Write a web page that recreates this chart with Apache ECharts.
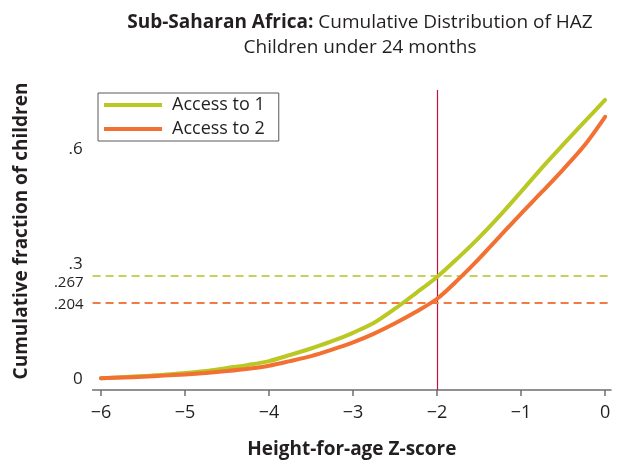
<!DOCTYPE html>
<html>
<head>
<meta charset="utf-8">
<script src="https://cdn.jsdelivr.net/npm/echarts@6/dist/echarts.min.js"></script>
<style>
html,body{margin:0;padding:0;background:#fff;}
#chart{width:619px;height:464px;}
</style>
</head>
<body>
<div id="chart"></div>
<script>
// ---- data ----
const zScores = [-6, -5.75, -5.5, -5.25, -5, -4.75, -4.5, -4.25, -4, -3.75, -3.5, -3.25, -3, -2.75, -2.5, -2.25, -2, -1.75, -1.5, -1.25, -1, -0.75, -0.5, -0.25, 0];
const access1 = [0.002, 0.005, 0.008, 0.011, 0.016, 0.021, 0.029, 0.037, 0.047, 0.063, 0.080, 0.099, 0.121, 0.147, 0.184, 0.225, 0.267, 0.317, 0.370, 0.428, 0.490, 0.553, 0.613, 0.672, 0.730];
const access2 = [0.002, 0.004, 0.006, 0.009, 0.012, 0.016, 0.021, 0.027, 0.035, 0.047, 0.060, 0.077, 0.096, 0.119, 0.146, 0.176, 0.210, 0.260, 0.315, 0.374, 0.433, 0.490, 0.548, 0.610, 0.686];
const seriesNames = ['Access to 1', 'Access to 2'];
const xTicks = [-6, -5, -4, -3, -2, -1, 0];
const yTicks = [0, 0.3, 0.6];
const cutoffZ = -2;
const refLevels = [0.267, 0.204];

const FONT = '"Open Sans", "Noto Sans", sans-serif';
const TXT = '#231f20';
const GREEN = '#b9c823';
const ORANGE = '#f27032';

const pairs = (ys) => zScores.map((z, i) => [z, ys[i]]);
const fmtDec = (v) => v === 0 ? '0' : String(v).replace(/^0/, '');

const chart = echarts.init(document.getElementById('chart'), null, {renderer: 'canvas'});
chart.setOption({
  animation: false,
  backgroundColor: '#fff',
  title: [
    {
      text: '{b|Sub-Saharan Africa:} {r|Cumulative Distribution of HAZ}',
      left: 355, top: 8, textAlign: 'center',
      textStyle: {
        rich: {
          b: {fontFamily: FONT, fontSize: 19, fontWeight: 'bold', color: TXT},
          r: {fontFamily: FONT, fontSize: 19, fontWeight: 'normal', color: TXT}
        }
      }
    },
    {
      text: 'Children under 24 months',
      left: 355, top: 33, textAlign: 'center',
      textStyle: {fontFamily: FONT, fontSize: 19, fontWeight: 'normal', color: TXT}
    }
  ],
  legend: {
    orient: 'vertical',
    left: 98, top: 93,
    data: seriesNames,
    icon: 'rect',
    itemWidth: 58, itemHeight: 4,
    itemGap: 4,
    padding: [2, 14, 2, 6],
    borderColor: '#58595b', borderWidth: 1, borderRadius: 0,
    textStyle: {fontFamily: FONT, fontSize: 18, color: TXT, lineHeight: 20, padding: [0, 0, 0, 5]}
  },
  grid: {left: 92.6, right: 8, top: 90, bottom: 72, containLabel: false},
  xAxis: {
    type: 'value',
    min: -6.1, max: 0.07,
    name: 'Height-for-age Z-score',
    nameLocation: 'middle',
    nameGap: 50,
    nameTextStyle: {fontFamily: FONT, fontSize: 19, fontWeight: 'bold', color: TXT},
    axisLine: {show: true, onZero: false, lineStyle: {color: '#6d6e71', width: 1.5}},
    axisTick: {show: true, length: 6, lineStyle: {color: '#6d6e71', width: 1.5}, customValues: xTicks},
    axisLabel: {
      customValues: xTicks,
      margin: 14,
      fontFamily: FONT, fontSize: 18, color: TXT,
      formatter: (v) => v < 0 ? '\u2212' + Math.abs(v) : String(v)
    },
    splitLine: {show: false}
  },
  yAxis: {
    type: 'value',
    min: -0.0286, max: 0.756,
    axisLine: {show: false},
    axisTick: {show: false},
    splitLine: {show: false},
    axisLabel: {
      customValues: yTicks,
      margin: 10,
      fontFamily: FONT, fontSize: 17, color: TXT,
      formatter: fmtDec
    }
  },
  graphic: [
    {
      type: 'text',
      x: 22, y: 231,
      rotation: Math.PI / 2,
      style: {
        text: 'Cumulative fraction of children',
        fontFamily: FONT, fontSize: 19, fontWeight: 'bold', fill: TXT,
        align: 'center', verticalAlign: 'middle'
      }
    }
  ],
  series: [
    {
      name: 'cutoff',
      type: 'line',
      data: [],
      z: 1,
      markLine: {
        silent: true, symbol: 'none', z: 1,
        lineStyle: {color: '#c0123c', type: 'solid', width: 1.2},
        label: {show: false},
        data: [{xAxis: cutoffZ}]
      }
    },
    {
      name: seriesNames[0],
      type: 'line',
      data: pairs(access1),
      smooth: 0.3,
      showSymbol: false,
      z: 3,
      color: GREEN,
      lineStyle: {color: GREEN, width: 4, cap: 'round'},
      markLine: {
        silent: true, symbol: 'none', z: 2,
        lineStyle: {color: '#c5d15a', type: [8, 5], width: 2},
        label: {show: true, position: 'start', distance: 9, offset: [0, 7], formatter: fmtDec(refLevels[0]), fontFamily: FONT, fontSize: 15, color: TXT},
        data: [{yAxis: refLevels[0]}]
      }
    },
    {
      name: seriesNames[1],
      type: 'line',
      data: pairs(access2),
      smooth: 0.3,
      showSymbol: false,
      z: 3,
      color: ORANGE,
      lineStyle: {color: ORANGE, width: 4, cap: 'round'},
      markLine: {
        silent: true, symbol: 'none', z: 2,
        lineStyle: {color: '#f27a45', type: [8, 5], width: 2},
        label: {show: true, position: 'start', distance: 9, offset: [0, 2], formatter: fmtDec(refLevels[1]), fontFamily: FONT, fontSize: 15, color: TXT},
        data: [{yAxis: refLevels[1]}]
      }
    }
  ]
});
</script>
</body>
</html>
